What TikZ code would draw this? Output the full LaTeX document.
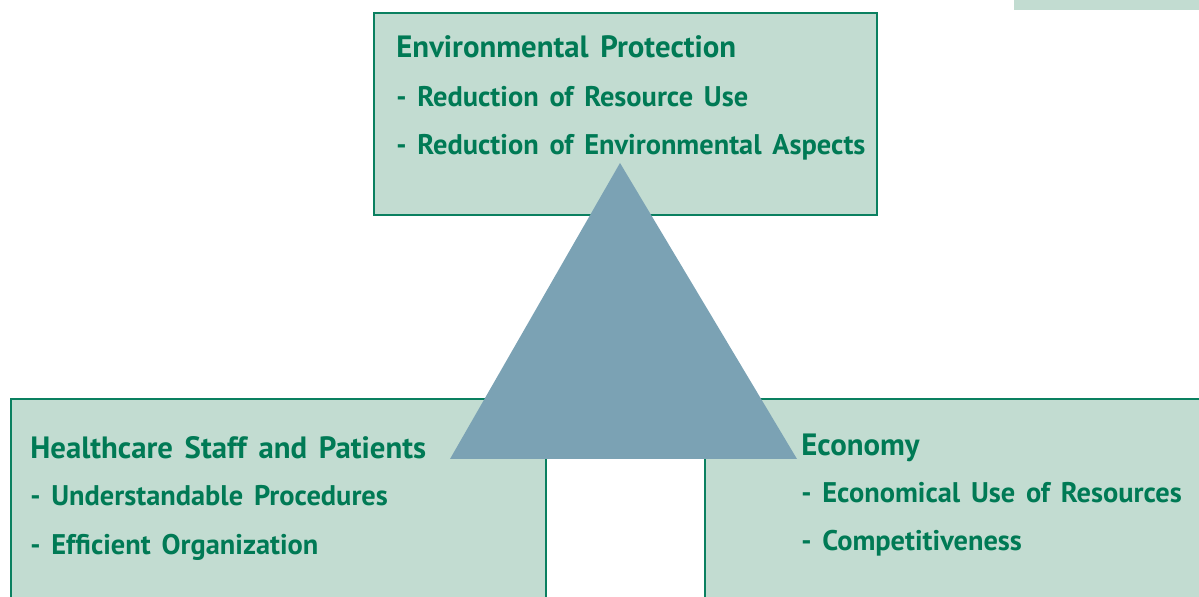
\documentclass[tikz,border=0pt]{standalone}
\usepackage{fontspec}
\newfontfamily\labelfont{PT Sans}[WordSpace=1.5]
\definecolor{boxfill}{HTML}{C2DCD1}
\definecolor{boxline}{HTML}{0A8060}
\definecolor{txtgreen}{HTML}{007A55}
\definecolor{trifill}{HTML}{7BA2B4}
\begin{document}
\begin{tikzpicture}[x=0.5pt,y=-0.5pt,
  box/.style={draw=boxline, fill=boxfill, line width=1pt, rectangle, inner sep=0pt, anchor=north west},
  txt/.style={text=txtgreen, font=\labelfont\bfseries\fontsize{14.2pt}{16pt}\selectfont, anchor=base west, inner sep=0pt},
  head/.style={txt, font=\labelfont\bfseries\fontsize{15.4pt}{17pt}\selectfont}]
\useasboundingbox (0,0) rectangle (1199,597);
\clip (0,0) rectangle (1199,597);
\fill[boxfill] (1014,0) rectangle (1199,10);
\node[box, minimum width=251.5pt, minimum height=101pt] (env) at (373,12) {};
\node[box, minimum width=267.5pt, minimum height=150pt] (health) at (10,398) {};
\node[box, minimum width=270pt, minimum height=150pt] (econ) at (704,398) {};
\fill[trifill] (620,163) -- (450,459) -- (797,459) -- cycle;
\node[head] (envT) at (396,58) {Environmental Protection};
\node[txt] (envA) at (396,107) {- Reduction of Resource Use};
\node[txt] (envB) at (396,155) {- Reduction of Environmental Aspects};
\node[head] (hT) at (30,459) {Healthcare Staff and Patients};
\node[txt] (hA) at (30,506) {- Understandable Procedures};
\node[txt] (hB) at (30,555) {- Efficient Organization};
\node[head] (eT) at (801,456) {Economy};
\node[txt] (eA) at (801,503) {- Economical Use of Resources};
\node[txt] (eB) at (801,551) {- Competitiveness};
\end{tikzpicture}
\end{document}
